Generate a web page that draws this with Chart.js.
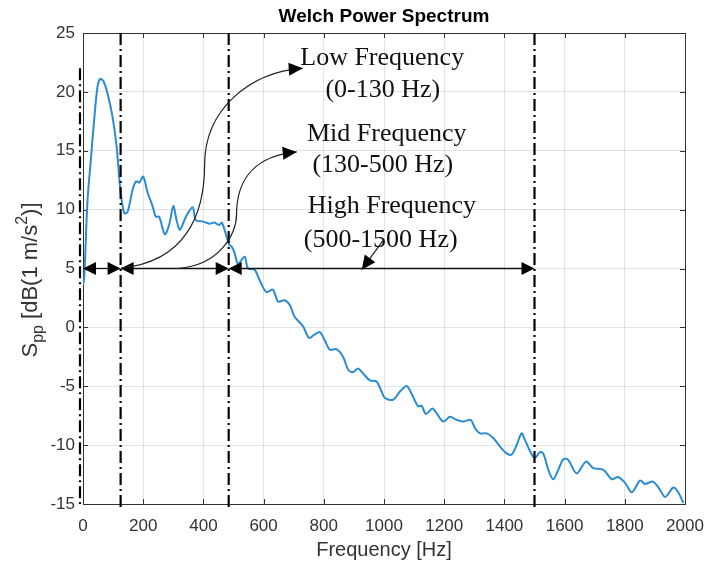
<!DOCTYPE html>
<html>
<head>
<meta charset="utf-8">
<script src="https://cdn.jsdelivr.net/npm/chart.js@4.4.1/dist/chart.umd.min.js"></script>
<style>
  html, body { margin: 0; padding: 0; background: #fff; }
  #wrap { width: 704px; height: 564px; position: relative; }
</style>
</head>
<body>
<div id="wrap"><canvas id="psd"></canvas></div>
<script>
// Welch spectrum, values (Hz / dB)
const freqHz = [0, 4, 15, 26, 37, 48, 57, 68, 81, 98, 112, 124, 137, 148, 165, 176, 187, 200, 214, 231,
  242, 253, 272, 287, 300, 311, 322, 342, 364, 375, 397, 420, 436, 453, 461, 470, 486, 493, 504, 515,
  537, 548, 570, 587, 609, 631, 648, 670, 687, 703, 731, 751, 770, 787, 803, 820, 842, 864, 881, 897,
  914, 930, 953, 975, 992, 1003, 1030, 1053, 1075, 1091, 1113, 1125, 1139, 1161, 1175, 1197, 1219, 1241,
  1263, 1288, 1302, 1319, 1341, 1363, 1385, 1407, 1424, 1441, 1457, 1468, 1485, 1501, 1518, 1529, 1546,
  1562, 1579, 1596, 1612, 1640, 1671, 1695, 1729, 1757, 1778, 1801, 1823, 1851, 1867, 1893, 1912, 1934,
  1961, 1975, 1995];
const psdDb = [3.6, 4.2, 10.8, 14.2, 17.6, 20.4, 21.1, 20.9, 19.9, 17.9, 15.3, 11.7, 9.7, 9.8, 11.7, 12.4, 12.3, 12.8, 11.5, 10.3,
  9.4, 9.4, 7.9, 8.8, 10.3, 9.1, 8.3, 9.4, 10.2, 9.1, 9.0, 8.8, 8.9, 8.7, 8.9, 8.3, 7.0, 6.9, 6.3, 5.4,
  6.0, 5.0, 4.9, 4.0, 3.0, 3.2, 2.2, 2.3, 1.9, 0.9, 0.1, -0.9, -0.6, -0.4, -1.1, -1.9, -1.85, -2.5, -3.6, -3.8,
  -3.5, -3.9, -4.5, -4.6, -5.45, -6.0, -6.15, -5.45, -4.97, -5.6, -6.7, -6.65, -7.35, -6.9, -7.3, -8.0, -7.6, -7.85,
  -8.0, -7.85, -8.55, -9.0, -9.0, -9.4, -10.1, -10.7, -10.8, -9.97, -9.0, -9.55, -10.5, -11.1, -10.6, -10.7, -12.1,
  -12.9, -12.1, -11.2, -11.25, -12.4, -11.4, -11.95, -12.1, -12.9, -12.7, -13.2, -14.0, -13.0, -13.3, -13.1, -13.6, -14.4,
  -13.6, -13.9, -14.9];

const xTicks = [0, 200, 400, 600, 800, 1000, 1200, 1400, 1600, 1800, 2000];
const yTicks = [-15, -10, -5, 0, 5, 10, 15, 20, 25];

// band edges (Hz) and the level of the span arrows (dB)
const bandEdges = [0, 125, 484, 1500];
const edgeLines = [125, 484, 1500];
const arrowLevel = 5;

const bandText = ["Low Frequency", "(0-130 Hz)", "Mid Frequency", "(130-500 Hz)", "High Frequency", "(500-1500 Hz)"];
const bandTextHz = [994, 996, 1009, 996, 1026, 989];
const bandTextDb = [22.3, 19.6, 15.8, 13.2, 9.7, 6.8];

// leader curves, two cubic pieces each: start, c1, c2, mid, c1, c2, end  (Hz, dB)
const lowLeader = [[128, 5.05], [338, 5.56], [404, 9.55], [404, 13.8], [404, 18.5], [554, 21.7], [730, 22.0]];
const midLeader = [[311, 5.0], [455, 5.2], [510, 8.0], [510, 9.55], [510, 12.95], [587, 14.6], [710, 14.9]];
const highLeader = [[996, 7.34], [926, 4.9]];

const sans = "'Liberation Sans', Arial, sans-serif";

function head(ctx, x, y, ang, len, half) {
  ctx.save();
  ctx.translate(x, y);
  ctx.rotate(ang);
  ctx.beginPath();
  ctx.moveTo(0, 0);
  ctx.lineTo(-len, -half);
  ctx.lineTo(-len, half);
  ctx.closePath();
  ctx.fill();
  ctx.restore();
}

const boxAndNotes = {
  id: "boxAndNotes",
  beforeDatasetsDraw(chart) {
    const { ctx, chartArea: a, scales: { x, y } } = chart;
    ctx.save();
    ctx.strokeStyle = "#333";
    ctx.lineWidth = 1;
    ctx.beginPath();
    xTicks.forEach(v => {
      const px = Math.round(x.getPixelForValue(v)) + 0.5;
      ctx.moveTo(px, a.bottom); ctx.lineTo(px, a.bottom - 5);
      ctx.moveTo(px, a.top); ctx.lineTo(px, a.top + 5);
    });
    yTicks.forEach(v => {
      const py = Math.round(y.getPixelForValue(v)) + 0.5;
      ctx.moveTo(a.left, py); ctx.lineTo(a.left + 5, py);
      ctx.moveTo(a.right, py); ctx.lineTo(a.right - 5, py);
    });
    ctx.stroke();
    ctx.strokeRect(Math.round(a.left) + 0.5, Math.round(a.top) + 0.5, Math.round(a.right - a.left), Math.round(a.bottom - a.top));
    ctx.restore();
  },
  afterDatasetsDraw(chart) {
    const { ctx, chartArea: a, scales: { x, y } } = chart;
    const X = v => x.getPixelForValue(v);
    const Y = v => y.getPixelForValue(v);
    ctx.save();

    // dash-dot band edges
    ctx.strokeStyle = "#000";
    ctx.lineWidth = 2.2;
    ctx.setLineDash([12, 4, 2, 4]);
    ctx.beginPath();
    edgeLines.forEach(f => {
      ctx.moveTo(X(f), Y(25));
      ctx.lineTo(X(f), Y(-15.4));
    });
    ctx.moveTo(X(-10), Y(22));
    ctx.lineTo(X(-10), Y(-15));
    ctx.stroke();
    ctx.setLineDash([]);

    // span arrows at 5 dB
    ctx.fillStyle = "#000";
    ctx.strokeStyle = "#111";
    ctx.lineWidth = 1.3;
    const yy = Y(arrowLevel);
    for (let i = 0; i < bandEdges.length - 1; i++) {
      const x0 = X(bandEdges[i]), x1 = X(bandEdges[i + 1]);
      ctx.beginPath();
      ctx.moveTo(x0 + 10, yy); ctx.lineTo(x1 - 10, yy);
      ctx.stroke();
      head(ctx, x0, yy, Math.PI, 13, 6.5);
      head(ctx, x1, yy, 0, 13, 6.5);
    }

    // curved leaders
    ctx.strokeStyle = "#222";
    ctx.lineWidth = 1.2;
    [lowLeader, midLeader].forEach(p => {
      const q = p.map(([f, d]) => [X(f), Y(d)]);
      ctx.beginPath();
      ctx.moveTo(q[0][0], q[0][1]);
      ctx.bezierCurveTo(q[1][0], q[1][1], q[2][0], q[2][1], q[3][0], q[3][1]);
      ctx.bezierCurveTo(q[4][0], q[4][1], q[5][0], q[5][1], q[6][0], q[6][1]);
      ctx.stroke();
      const ang = Math.atan2(q[6][1] - q[5][1], q[6][0] - q[5][0]);
      head(ctx, q[6][0], q[6][1], ang, 14, 6.5);
    });
    const h0 = [X(highLeader[0][0]), Y(highLeader[0][1])];
    const h1 = [X(highLeader[1][0]), Y(highLeader[1][1])];
    ctx.beginPath();
    ctx.moveTo(h0[0], h0[1]); ctx.lineTo(h1[0], h1[1]);
    ctx.stroke();
    head(ctx, h1[0], h1[1], Math.atan2(h1[1] - h0[1], h1[0] - h0[0]), 14, 6.5);

    // band labels
    ctx.fillStyle = "#111";
    ctx.font = "26px 'Liberation Serif', 'Times New Roman', serif";
    ctx.textAlign = "center";
    ctx.textBaseline = "alphabetic";
    bandText.forEach((t, i) => ctx.fillText(t, X(bandTextHz[i]), Y(bandTextDb[i])));

    // title and axis labels
    ctx.fillStyle = "#000";
    ctx.font = "bold 19px " + sans;
    ctx.textBaseline = "middle";
    ctx.fillText("Welch Power Spectrum", (a.left + a.right) / 2, 17);

    ctx.fillStyle = "#333";
    ctx.font = "20px " + sans;
    ctx.fillText("Frequency [Hz]", (a.left + a.right) / 2, 550);

    // y label with sub/superscript
    const parts = [["S", 22, 0], ["pp", 16, 6], [" [dB(1 m/s", 22, 0], ["2", 16, -10], [")]", 22, 0]];
    let total = 0;
    parts.forEach(p => {
      ctx.font = p[1] + "px " + sans;
      total += ctx.measureText(p[0]).width;
    });
    ctx.textBaseline = "alphabetic";
    ctx.translate(37, 280);
    ctx.rotate(-Math.PI / 2);
    ctx.textAlign = "left";
    let cx = -total / 2;
    parts.forEach(p => {
      ctx.font = p[1] + "px " + sans;
      ctx.fillText(p[0], cx, p[2]);
      cx += ctx.measureText(p[0]).width;
    });
    ctx.restore();
  }
};

new Chart(document.getElementById("psd"), {
  type: "line",
  data: {
    datasets: [{
      data: freqHz.map((f, i) => ({ x: f, y: psdDb[i] })),
      borderColor: "#2b8bd3",
      borderWidth: 2,
      pointRadius: 0,
      tension: 0.3,
      fill: false
    }]
  },
  options: {
    responsive: true,
    maintainAspectRatio: false,
    animation: false,
    devicePixelRatio: 1,
    layout: { padding: { top: 33, right: 19, left: 0, bottom: 0 } },
    plugins: { legend: { display: false }, tooltip: { enabled: false } },
    scales: {
      x: {
        type: "linear",
        min: 0,
        max: 2000,
        afterBuildTicks: s => { s.ticks = xTicks.map(v => ({ value: v })); },
        afterFit: s => { s.height = 60; s.paddingLeft = 0; s.paddingRight = 0; },
        ticks: { padding: 12, color: "#333", font: { family: sans, size: 17 }, maxRotation: 0, callback: v => String(v) },
        grid: { color: "rgba(0,0,0,0.11)", drawTicks: false },
        border: { display: false }
      },
      y: {
        min: -15,
        max: 25,
        afterBuildTicks: s => { s.ticks = yTicks.map(v => ({ value: v })); },
        afterFit: s => { s.width = 83; s.paddingTop = 0; s.paddingBottom = 0; },
        ticks: { padding: 8, color: "#333", font: { family: sans, size: 17 }, callback: v => String(v) },
        grid: { color: "rgba(0,0,0,0.11)", drawTicks: false },
        border: { display: false }
      }
    }
  },
  plugins: [boxAndNotes]
});
</script>
</body>
</html>
